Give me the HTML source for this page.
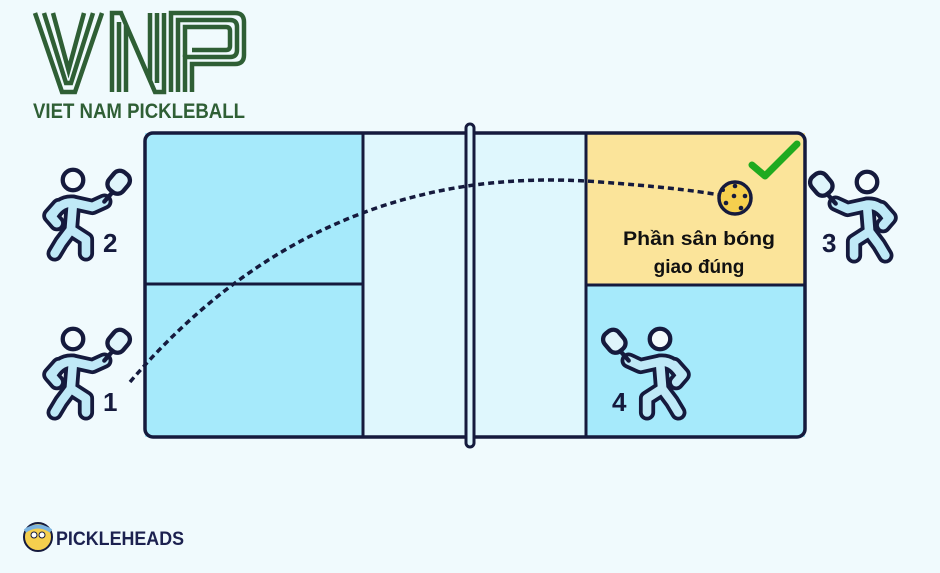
<!DOCTYPE html>
<html><head><meta charset="utf-8"><style>
html,body{margin:0;padding:0;background:#f0fafd;}
svg{display:block;font-family:"Liberation Sans",sans-serif;}
</style></head><body>
<svg width="940" height="573" viewBox="0 0 940 573" xmlns="http://www.w3.org/2000/svg">
<defs>
<g id="pl">
  <g fill="none" stroke="#151a3d" stroke-width="15" stroke-linecap="round" stroke-linejoin="round">
    <path d="M-20,34 Q-12,20 0,21 L18,25 L29,20"/>
    <path d="M-13,24 L-21,33 L-15,40"/>
    <path d="M0,21 L-2,46 L-11,58 L-17,68"/>
    <path d="M-2,46 L12,55 L12,68"/>
  </g>
  <g fill="none" stroke="#bfe9f7" stroke-width="8" stroke-linecap="round" stroke-linejoin="round">
    <path d="M-20,34 Q-12,20 0,21 L18,25 L29,20"/>
    <path d="M-13,24 L-21,33 L-15,40"/>
    <path d="M0,21 L-2,46 L-11,58 L-17,68"/>
    <path d="M-2,46 L12,55 L12,68"/>
  </g>
  <line x1="29" y1="20" x2="36" y2="12" stroke="#151a3d" stroke-width="4" stroke-linecap="round"/>
  <rect x="34" y="-8" width="17" height="21" rx="7" transform="rotate(40 43 2)" fill="#dff4fb" stroke="#151a3d" stroke-width="4"/>
  <circle cx="0" cy="0" r="9.5" fill="#f4fbfd" stroke="#151a3d" stroke-width="4"/>
</g>
</defs>

<!-- VNP logo -->
<g fill="none" stroke="#2f5f35" stroke-width="4.5">
  <path d="M35,13 L62,92 L75,92 L102,13"/>
  <path d="M44,13 L66,83 L71,83 L93,13"/>
  <path d="M53,13 L68.5,70 L84,13"/>
  <path d="M112,92 V13 H121 L150,80 V13 M164,13 V92 H155 L126,25 V92"/>
  <path d="M119,92 V22 M157,13 V83"/>
  <path d="M171,92 V13 H235 Q244,13 244,22 V55 Q244,64 235,64 H192 V92"/>
  <path d="M178,92 V20 H230 Q237,20 237,27 V50 Q237,57 230,57 H185 V92"/>
  <path d="M185,57 V27 H226 Q230,27 230,31 V46 Q230,50 226,50 H192"/>
</g>
<text x="33" y="118" font-size="21" font-weight="bold" fill="#2f5f35" textLength="212" lengthAdjust="spacingAndGlyphs">VIET NAM PICKLEBALL</text>

<!-- court -->
<rect x="145" y="133" width="660" height="304" rx="8" fill="#dff7fd"/>
<rect x="145" y="133" width="218" height="304" fill="#a6eafb"/>
<rect x="586" y="133" width="219" height="152" fill="#fbe49a"/>
<rect x="586" y="285" width="219" height="152" fill="#a6eafb"/>
<rect x="145" y="133" width="660" height="304" rx="8" fill="none" stroke="#151a3d" stroke-width="3.5"/>
<g stroke="#151a3d" stroke-width="3">
<line x1="363" y1="133" x2="363" y2="437"/>
<line x1="586" y1="133" x2="586" y2="437"/>
<line x1="145" y1="284" x2="363" y2="284"/>
<line x1="586" y1="285" x2="805" y2="285"/>
</g>
<rect x="466" y="124" width="8" height="323" rx="4" fill="#dff7fd" stroke="#151a3d" stroke-width="3"/>

<!-- ball path -->
<path d="M130,382 Q320,160 600,182 Q680,188 720,195" fill="none" stroke="#151a3d" stroke-width="3.5" stroke-dasharray="6,4"/>
<circle cx="735" cy="198" r="16" fill="#f5cf4e" stroke="#151a3d" stroke-width="3.5"/>
<g fill="#151a3d"><circle cx="735" cy="186" r="2.3"/><circle cx="745" cy="196" r="2.3"/><circle cx="734" cy="196" r="2.3"/><circle cx="726" cy="203" r="2.3"/><circle cx="741" cy="208" r="2.3"/><circle cx="723" cy="190" r="2"/></g>
<path d="M752,165 L765,176 L797,144" fill="none" stroke="#1faa1f" stroke-width="7" stroke-linecap="round" stroke-linejoin="round"/>
<text x="699" y="245" font-size="19" font-weight="bold" fill="#111" text-anchor="middle" textLength="152" lengthAdjust="spacingAndGlyphs">Phần sân bóng</text>
<text x="699" y="273" font-size="19" font-weight="bold" fill="#111" text-anchor="middle">giao đúng</text>

<!-- players -->
<use href="#pl" transform="translate(73,180) scale(1.08)"/>
<use href="#pl" transform="translate(73,339) scale(1.08)"/>
<use href="#pl" transform="translate(867,182) scale(-1.08,1.08)"/>
<use href="#pl" transform="translate(660,339) scale(-1.08,1.08)"/>
<g font-size="26" font-weight="bold" fill="#151a3d">
<text x="103" y="252">2</text>
<text x="103" y="411">1</text>
<text x="822" y="252">3</text>
<text x="612" y="411">4</text>
</g>

<!-- pickleheads -->
<circle cx="38" cy="537" r="14" fill="#f5cf4e" stroke="#151a3d" stroke-width="2"/>
<path d="M25,531 Q38,522 51,531" fill="none" stroke="#7ab3e0" stroke-width="4"/>
<circle cx="34" cy="535" r="3" fill="#fff" stroke="#151a3d" stroke-width="1"/>
<circle cx="42" cy="535" r="3" fill="#fff" stroke="#151a3d" stroke-width="1"/>
<text x="56" y="545" font-size="19" font-weight="bold" fill="#1c2150" textLength="128" lengthAdjust="spacingAndGlyphs">PICKLEHEADS</text>
</svg>
</body></html>
